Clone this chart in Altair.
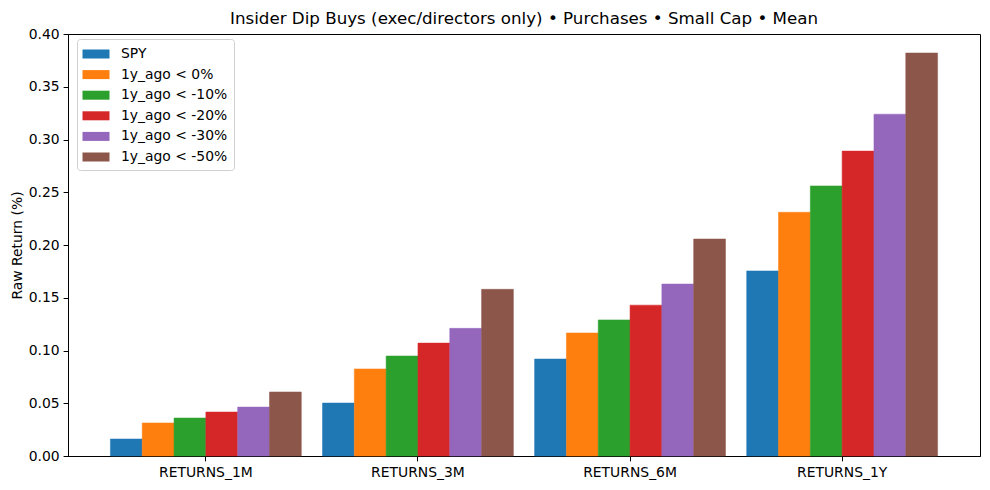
import altair as alt
import pandas as pd

periods = ["RETURNS_1M", "RETURNS_3M", "RETURNS_6M", "RETURNS_1Y"]
series = ["SPY", "1y_ago < 0%", "1y_ago < -10%", "1y_ago < -20%", "1y_ago < -30%", "1y_ago < -50%"]
colors = ["#1f77b4", "#ff7f0e", "#2ca02c", "#d62728", "#9467bd", "#8c564b"]

spy = [0.0161, 0.0502, 0.0919, 0.1754]
lt0 = [0.0313, 0.0825, 0.1166, 0.2310]
lt10 = [0.0360, 0.0948, 0.1290, 0.2560]
lt20 = [0.0417, 0.1070, 0.1430, 0.2890]
lt30 = [0.0464, 0.1210, 0.1630, 0.3240]
lt50 = [0.0607, 0.1580, 0.2057, 0.3820]

rows = []
for name, vals in zip(series, [spy, lt0, lt10, lt20, lt30, lt50]):
    for p, v in zip(periods, vals):
        rows.append({"period": p, "series": name, "value": v})
df = pd.DataFrame(rows)

font = "DejaVu Sans"
fs = 13.9

chart = alt.Chart(df).mark_bar(strokeWidth=0.5).encode(
    x=alt.X("period:N", sort=periods, title=None,
            scale=alt.Scale(paddingInner=0.1, paddingOuter=0.2),
            axis=alt.Axis(labelAngle=0, labelFontSize=fs, labelColor="#000", tickColor="#000",
                          domainColor="#000", tickSize=4.9, labelPadding=5, labelFont=font)),
    xOffset=alt.XOffset("series:N", sort=series, scale=alt.Scale(paddingInner=0, paddingOuter=0)),
    y=alt.Y("value:Q", title="Raw Return (%)",
            scale=alt.Scale(domain=[0, 0.40], nice=False),
            axis=alt.Axis(values=[0, 0.05, 0.10, 0.15, 0.20, 0.25, 0.30, 0.35, 0.40], format=".2f",
                          grid=False, labelFontSize=fs, labelColor="#000", tickColor="#000",
                          domainColor="#000", tickSize=4.9, labelPadding=4, labelFont=font,
                          titleFont=font, titleFontSize=fs, titleFontWeight="normal",
                          titleColor="#000", titlePadding=4)),
    color=alt.Color("series:N", sort=series, scale=alt.Scale(domain=series, range=colors),
                    legend=alt.Legend(title=None, orient="none", legendX=9, legendY=5,
                                      symbolType="M-1.5,-0.5H1.5V0.5H-1.5Z", symbolSize=324,
                                      symbolStrokeWidth=0, labelFont=font, labelFontSize=fs,
                                      labelColor="#000", rowPadding=4.6, labelOffset=16,
                                      padding=6, strokeColor="#d0d0d0", fillColor="#ffffff",
                                      cornerRadius=3, symbolOffset=4)),
    stroke=alt.Stroke("series:N", sort=series, scale=alt.Scale(domain=series, range=colors),
                      legend=None),
).properties(
    width=912, height=422,
    title=alt.TitleParams("Insider Dip Buys (exec/directors only) • Purchases • Small Cap • Mean",
                          font=font, fontSize=16.7, fontWeight="normal", color="#000", offset=-1),
    padding={"left": 60, "top": 26, "right": 2, "bottom": 26},
    autosize="none",
).configure_view(stroke="#000", strokeWidth=1)

chart.save("out.html", embed_options={"renderer": "svg", "actions": False})
